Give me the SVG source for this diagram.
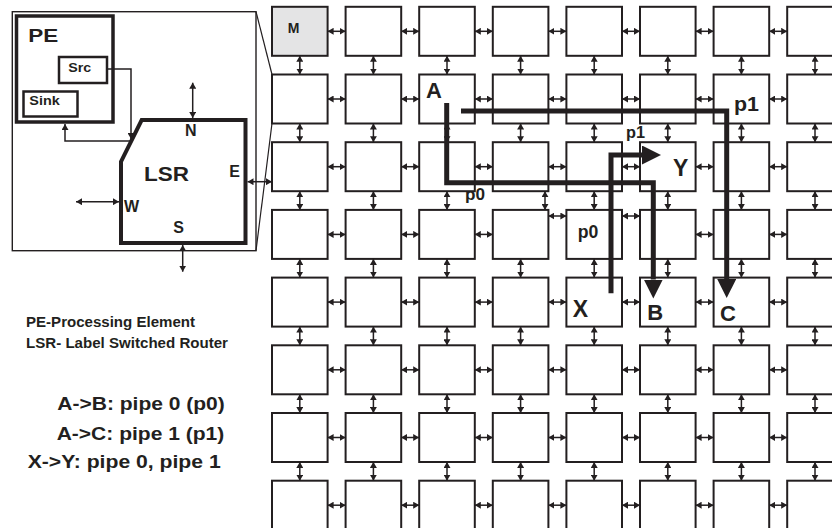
<svg xmlns="http://www.w3.org/2000/svg" width="832" height="528" viewBox="0 0 832 528">
<style>
text{font-family:"Liberation Sans",Arial,Helvetica,sans-serif;font-weight:bold;fill:#231f20}
.box{fill:#fff;stroke:#231f20;stroke-width:2}
.m{fill:#e4e4e5}
.thin{stroke:#231f20;stroke-width:1.2;fill:none}
.one{stroke:#231f20;stroke-width:1.5;fill:none;marker-end:url(#ah)}
.two{stroke:#231f20;stroke-width:1.5;fill:none;marker-start:url(#ah);marker-end:url(#ah)}
.route{stroke:#231f20;stroke-width:5;fill:none;stroke-linejoin:miter;marker-end:url(#big)}
</style>
<defs>
<marker id="ah" viewBox="0 0 6 7" refX="6" refY="3.5" markerWidth="6" markerHeight="7" markerUnits="userSpaceOnUse" orient="auto-start-reverse"><path d="M0,0L6,3.5L0,7z" fill="#231f20"/></marker>
<marker id="big" viewBox="0 0 19 19" refX="0" refY="9.5" markerWidth="19" markerHeight="19" markerUnits="userSpaceOnUse" orient="auto"><path d="M0,0L19,9.5L0,19z" fill="#231f20"/></marker>
<line id="ha" x1="0" y1="0" x2="18" y2="0" stroke="#231f20" stroke-width="1.5" marker-start="url(#ah)" marker-end="url(#ah)"/>
<line id="va" x1="0" y1="0" x2="0" y2="18.7" stroke="#231f20" stroke-width="1.5" marker-start="url(#ah)" marker-end="url(#ah)"/>
</defs>

<g id="inset">
<rect x="12.3" y="11.7" width="243.7" height="239" fill="none" stroke="#231f20" stroke-width="1.4"/>
<g id="pe">
<rect x="16.5" y="16" width="96.5" height="106" fill="#fff" stroke="#231f20" stroke-width="3.5"/>
<text x="28.3" y="41.7" font-size="19" textLength="30" lengthAdjust="spacingAndGlyphs">PE</text>
<g id="src"><rect x="59" y="57" width="48" height="26" fill="#fff" stroke="#231f20" stroke-width="2.5"/><text x="68.3" y="71.7" font-size="13" textLength="23" lengthAdjust="spacingAndGlyphs">Src</text></g>
<g id="sink"><rect x="23.5" y="91.5" width="54" height="25" fill="#fff" stroke="#231f20" stroke-width="2.5"/><text x="29.3" y="105" font-size="13" textLength="30.5" lengthAdjust="spacingAndGlyphs">Sink</text></g>
</g>
<g id="lsr">
<polygon points="141.7,120 245.5,120 245.5,243 121,243 121,161.7" fill="#fff" stroke="#231f20" stroke-width="4"/>
<text x="144" y="181" font-size="21" textLength="45" lengthAdjust="spacingAndGlyphs">LSR</text>
<text x="185" y="135.7" font-size="16">N</text>
<text x="229.3" y="176.7" font-size="16">E</text>
<text x="124" y="211.7" font-size="16">W</text>
<text x="173.3" y="233.3" font-size="16">S</text>
</g>
</g>

<g id="grid">
<g id="n0-0"><rect class="box m" x="272" y="6.8" width="55.6" height="49"/><text x="287.7" y="33.3" font-size="14">M</text></g>
<g id="n0-1"><rect class="box" x="345.6" y="6.8" width="55.6" height="49"/></g>
<g id="n0-2"><rect class="box" x="419.2" y="6.8" width="55.6" height="49"/></g>
<g id="n0-3"><rect class="box" x="492.8" y="6.8" width="55.6" height="49"/></g>
<g id="n0-4"><rect class="box" x="566.4" y="6.8" width="55.6" height="49"/></g>
<g id="n0-5"><rect class="box" x="640" y="6.8" width="55.6" height="49"/></g>
<g id="n0-6"><rect class="box" x="713.6" y="6.8" width="55.6" height="49"/></g>
<g id="n0-7"><rect class="box" x="787.2" y="6.8" width="55.6" height="49"/></g>

<g id="n1-0"><rect class="box" x="272" y="74.5" width="55.6" height="49"/></g>
<g id="n1-1"><rect class="box" x="345.6" y="74.5" width="55.6" height="49"/></g>
<g id="n1-2"><rect class="box" x="419.2" y="74.5" width="55.6" height="49"/><text x="426" y="98" font-size="22">A</text></g>
<g id="n1-3"><rect class="box" x="492.8" y="74.5" width="55.6" height="49"/></g>
<g id="n1-4"><rect class="box" x="566.4" y="74.5" width="55.6" height="49"/></g>
<g id="n1-5"><rect class="box" x="640" y="74.5" width="55.6" height="49"/></g>
<g id="n1-6"><rect class="box" x="713.6" y="74.5" width="55.6" height="49"/><text x="734" y="111" font-size="21" textLength="25" lengthAdjust="spacingAndGlyphs">p1</text></g>
<g id="n1-7"><rect class="box" x="787.2" y="74.5" width="55.6" height="49"/></g>

<g id="n2-0"><rect class="box" x="272" y="142.2" width="55.6" height="49"/></g>
<g id="n2-1"><rect class="box" x="345.6" y="142.2" width="55.6" height="49"/></g>
<g id="n2-2"><rect class="box" x="419.2" y="142.2" width="55.6" height="49"/></g>
<g id="n2-3"><rect class="box" x="492.8" y="142.2" width="55.6" height="49"/></g>
<g id="n2-4"><rect class="box" x="566.4" y="142.2" width="55.6" height="49"/></g>
<g id="n2-5"><rect class="box" x="640" y="142.2" width="55.6" height="49"/><text x="673" y="176" font-size="23">Y</text></g>
<g id="n2-6"><rect class="box" x="713.6" y="142.2" width="55.6" height="49"/></g>
<g id="n2-7"><rect class="box" x="787.2" y="142.2" width="55.6" height="49"/></g>

<g id="n3-0"><rect class="box" x="272" y="209.9" width="55.6" height="49"/></g>
<g id="n3-1"><rect class="box" x="345.6" y="209.9" width="55.6" height="49"/></g>
<g id="n3-2"><rect class="box" x="419.2" y="209.9" width="55.6" height="49"/></g>
<g id="n3-3"><rect class="box" x="492.8" y="209.9" width="55.6" height="49"/></g>
<g id="n3-4"><rect class="box" x="566.4" y="209.9" width="55.6" height="49"/><text x="577.7" y="238.3" font-size="18" textLength="20.6" lengthAdjust="spacingAndGlyphs">p0</text></g>
<g id="n3-5"><rect class="box" x="640" y="209.9" width="55.6" height="49"/></g>
<g id="n3-6"><rect class="box" x="713.6" y="209.9" width="55.6" height="49"/></g>
<g id="n3-7"><rect class="box" x="787.2" y="209.9" width="55.6" height="49"/></g>

<g id="n4-0"><rect class="box" x="272" y="277.6" width="55.6" height="49"/></g>
<g id="n4-1"><rect class="box" x="345.6" y="277.6" width="55.6" height="49"/></g>
<g id="n4-2"><rect class="box" x="419.2" y="277.6" width="55.6" height="49"/></g>
<g id="n4-3"><rect class="box" x="492.8" y="277.6" width="55.6" height="49"/></g>
<g id="n4-4"><rect class="box" x="566.4" y="277.6" width="55.6" height="49"/><text x="572.7" y="317" font-size="23">X</text></g>
<g id="n4-5"><rect class="box" x="640" y="277.6" width="55.6" height="49"/><text x="647.3" y="320" font-size="22">B</text></g>
<g id="n4-6"><rect class="box" x="713.6" y="277.6" width="55.6" height="49"/><text x="720" y="320.5" font-size="22">C</text></g>
<g id="n4-7"><rect class="box" x="787.2" y="277.6" width="55.6" height="49"/></g>

<g id="n5-0"><rect class="box" x="272" y="345.3" width="55.6" height="49"/></g>
<g id="n5-1"><rect class="box" x="345.6" y="345.3" width="55.6" height="49"/></g>
<g id="n5-2"><rect class="box" x="419.2" y="345.3" width="55.6" height="49"/></g>
<g id="n5-3"><rect class="box" x="492.8" y="345.3" width="55.6" height="49"/></g>
<g id="n5-4"><rect class="box" x="566.4" y="345.3" width="55.6" height="49"/></g>
<g id="n5-5"><rect class="box" x="640" y="345.3" width="55.6" height="49"/></g>
<g id="n5-6"><rect class="box" x="713.6" y="345.3" width="55.6" height="49"/></g>
<g id="n5-7"><rect class="box" x="787.2" y="345.3" width="55.6" height="49"/></g>

<g id="n6-0"><rect class="box" x="272" y="413" width="55.6" height="49"/></g>
<g id="n6-1"><rect class="box" x="345.6" y="413" width="55.6" height="49"/></g>
<g id="n6-2"><rect class="box" x="419.2" y="413" width="55.6" height="49"/></g>
<g id="n6-3"><rect class="box" x="492.8" y="413" width="55.6" height="49"/></g>
<g id="n6-4"><rect class="box" x="566.4" y="413" width="55.6" height="49"/></g>
<g id="n6-5"><rect class="box" x="640" y="413" width="55.6" height="49"/></g>
<g id="n6-6"><rect class="box" x="713.6" y="413" width="55.6" height="49"/></g>
<g id="n6-7"><rect class="box" x="787.2" y="413" width="55.6" height="49"/></g>

<g id="n7-0"><rect class="box" x="272" y="480.7" width="55.6" height="49"/></g>
<g id="n7-1"><rect class="box" x="345.6" y="480.7" width="55.6" height="49"/></g>
<g id="n7-2"><rect class="box" x="419.2" y="480.7" width="55.6" height="49"/></g>
<g id="n7-3"><rect class="box" x="492.8" y="480.7" width="55.6" height="49"/></g>
<g id="n7-4"><rect class="box" x="566.4" y="480.7" width="55.6" height="49"/></g>
<g id="n7-5"><rect class="box" x="640" y="480.7" width="55.6" height="49"/></g>
<g id="n7-6"><rect class="box" x="713.6" y="480.7" width="55.6" height="49"/></g>
<g id="n7-7"><rect class="box" x="787.2" y="480.7" width="55.6" height="49"/></g>
</g>

<g id="connectors">
<!-- magnifier lines -->
<line class="thin" x1="256" y1="11.7" x2="272" y2="74.5"/>
<line class="thin" x1="256" y1="250.7" x2="272" y2="123.5"/>
<!-- inset LSR ports -->
<line class="two" x1="192.7" y1="82.7" x2="192.7" y2="118"/>
<line class="two" x1="182.7" y1="245" x2="182.7" y2="271.7"/>
<line class="two" x1="76" y1="201.7" x2="119" y2="201.7"/>
<line class="two" x1="247.5" y1="181.7" x2="272" y2="181.7"/>
<path class="one" d="M107.7,69H131V139"/>
<path class="one" d="M131,141H65V124"/>

<!-- horizontal links -->
<g id="h0"><use href="#ha" x="327.6" y="31.3"/><use href="#ha" x="401.2" y="31.3"/><use href="#ha" x="474.8" y="31.3"/><use href="#ha" x="548.4" y="31.3"/><use href="#ha" x="622" y="31.3"/><use href="#ha" x="695.6" y="31.3"/><use href="#ha" x="769.2" y="31.3"/></g>
<g id="h1"><use href="#ha" x="327.6" y="99"/><use href="#ha" x="401.2" y="99"/><use href="#ha" x="474.8" y="99"/><use href="#ha" x="548.4" y="99"/><use href="#ha" x="622" y="99"/><use href="#ha" x="695.6" y="99"/><use href="#ha" x="769.2" y="99"/></g>
<g id="h2"><use href="#ha" x="327.6" y="166.7"/><use href="#ha" x="401.2" y="166.7"/><use href="#ha" x="474.8" y="166.7"/><use href="#ha" x="548.4" y="166.7"/><use href="#ha" x="622" y="166.7"/><use href="#ha" x="695.6" y="166.7"/><use href="#ha" x="769.2" y="166.7"/></g>
<g id="h3"><use href="#ha" x="327.6" y="234.4"/><use href="#ha" x="401.2" y="234.4"/><use href="#ha" x="474.8" y="234.4"/><use href="#ha" x="548.4" y="216"/><use href="#ha" x="622" y="216"/><use href="#ha" x="695.6" y="234.4"/><use href="#ha" x="769.2" y="234.4"/></g>
<g id="h4"><use href="#ha" x="327.6" y="302.1"/><use href="#ha" x="401.2" y="302.1"/><use href="#ha" x="474.8" y="302.1"/><use href="#ha" x="548.4" y="302.1"/><use href="#ha" x="622" y="302.1"/><use href="#ha" x="695.6" y="302.1"/><use href="#ha" x="769.2" y="302.1"/></g>
<g id="h5"><use href="#ha" x="327.6" y="369.8"/><use href="#ha" x="401.2" y="369.8"/><use href="#ha" x="474.8" y="369.8"/><use href="#ha" x="548.4" y="369.8"/><use href="#ha" x="622" y="369.8"/><use href="#ha" x="695.6" y="369.8"/><use href="#ha" x="769.2" y="369.8"/></g>
<g id="h6"><use href="#ha" x="327.6" y="437.5"/><use href="#ha" x="401.2" y="437.5"/><use href="#ha" x="474.8" y="437.5"/><use href="#ha" x="548.4" y="437.5"/><use href="#ha" x="622" y="437.5"/><use href="#ha" x="695.6" y="437.5"/><use href="#ha" x="769.2" y="437.5"/></g>
<g id="h7"><use href="#ha" x="327.6" y="505.2"/><use href="#ha" x="401.2" y="505.2"/><use href="#ha" x="474.8" y="505.2"/><use href="#ha" x="548.4" y="505.2"/><use href="#ha" x="622" y="505.2"/><use href="#ha" x="695.6" y="505.2"/><use href="#ha" x="769.2" y="505.2"/></g>

<!-- vertical links -->
<g id="v0"><use href="#va" x="299.8" y="55.8"/><use href="#va" x="373.4" y="55.8"/><use href="#va" x="447" y="55.8"/><use href="#va" x="520.6" y="55.8"/><use href="#va" x="594.2" y="55.8"/><use href="#va" x="667.8" y="55.8"/><use href="#va" x="741.4" y="55.8"/><use href="#va" x="815" y="55.8"/></g>
<g id="v1"><use href="#va" x="299.8" y="123.5"/><use href="#va" x="373.4" y="123.5"/><use href="#va" x="447" y="123.5"/><use href="#va" x="520.6" y="123.5"/><use href="#va" x="594.2" y="123.5"/><use href="#va" x="667.8" y="123.5"/><use href="#va" x="741.4" y="123.5"/><use href="#va" x="815" y="123.5"/></g>
<g id="v2"><use href="#va" x="299.8" y="191.2"/><use href="#va" x="373.4" y="191.2"/><use href="#va" x="447" y="191.2"/><use href="#va" x="545" y="191.2"/><use href="#va" x="594.2" y="191.2"/><use href="#va" x="667.8" y="191.2"/><use href="#va" x="741.4" y="191.2"/><use href="#va" x="815" y="191.2"/></g>
<g id="v3"><use href="#va" x="299.8" y="258.9"/><use href="#va" x="373.4" y="258.9"/><use href="#va" x="447" y="258.9"/><use href="#va" x="520.6" y="258.9"/><use href="#va" x="594.2" y="258.9"/><use href="#va" x="667.8" y="258.9"/><use href="#va" x="741.4" y="258.9"/><use href="#va" x="815" y="258.9"/></g>
<g id="v4"><use href="#va" x="299.8" y="326.6"/><use href="#va" x="373.4" y="326.6"/><use href="#va" x="447" y="326.6"/><use href="#va" x="520.6" y="326.6"/><use href="#va" x="594.2" y="326.6"/><use href="#va" x="667.8" y="326.6"/><use href="#va" x="741.4" y="326.6"/><use href="#va" x="815" y="326.6"/></g>
<g id="v5"><use href="#va" x="299.8" y="394.3"/><use href="#va" x="373.4" y="394.3"/><use href="#va" x="447" y="394.3"/><use href="#va" x="520.6" y="394.3"/><use href="#va" x="594.2" y="394.3"/><use href="#va" x="667.8" y="394.3"/><use href="#va" x="741.4" y="394.3"/><use href="#va" x="815" y="394.3"/></g>
<g id="v6"><use href="#va" x="299.8" y="462"/><use href="#va" x="373.4" y="462"/><use href="#va" x="447" y="462"/><use href="#va" x="520.6" y="462"/><use href="#va" x="594.2" y="462"/><use href="#va" x="667.8" y="462"/><use href="#va" x="741.4" y="462"/><use href="#va" x="815" y="462"/></g>

<!-- routes -->
<path id="route-p0-AB" class="route" d="M446.7,103V182.7H653.3V279.5"/>
<path id="route-p1-AC" class="route" d="M461,111H726.7V279"/>
<path id="route-XY" class="route" d="M611,293.3V155H642"/>
<text x="465" y="200" font-size="17" textLength="20" lengthAdjust="spacingAndGlyphs">p0</text>
<text x="626" y="137.7" font-size="16" textLength="19" lengthAdjust="spacingAndGlyphs">p1</text>
</g>

<g id="legend">
<text x="26" y="326.7" font-size="14" textLength="169" lengthAdjust="spacingAndGlyphs">PE-Processing Element</text>
<text x="26" y="348.3" font-size="14" textLength="202" lengthAdjust="spacingAndGlyphs">LSR- Label Switched Router</text>
<text x="57.3" y="410" font-size="19" textLength="167.5" lengthAdjust="spacingAndGlyphs">A-&gt;B: pipe 0 (p0)</text>
<text x="56.7" y="440" font-size="19" textLength="167.5" lengthAdjust="spacingAndGlyphs">A-&gt;C: pipe 1 (p1)</text>
<text x="27.7" y="468.3" font-size="19" textLength="193" lengthAdjust="spacingAndGlyphs">X-&gt;Y: pipe 0, pipe 1</text>
</g>
</svg>
